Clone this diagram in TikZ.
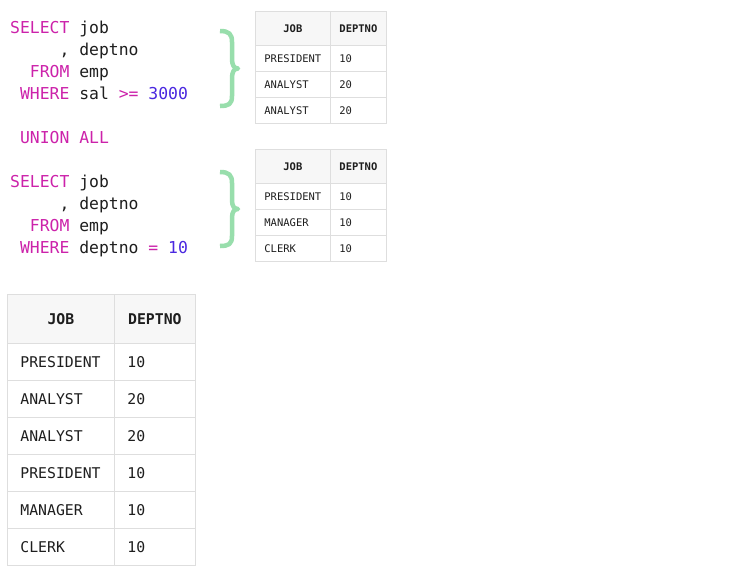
\documentclass[tikz,border=0pt]{standalone}
\usepackage{fontspec}
\setmonofont{DejaVu Sans Mono}
\definecolor{kw}{HTML}{CC22AA}
\definecolor{num}{HTML}{4A28E0}
\definecolor{brc}{HTML}{98DEAC}
\definecolor{gridc}{HTML}{DEDEDE}
\definecolor{hdr}{HTML}{F7F7F7}
\definecolor{txt}{HTML}{1E1E1E}
\newcommand{\kw}[1]{\textcolor{kw}{#1}}
\newcommand{\nm}[1]{\textcolor{num}{#1}}
\begin{document}
\begin{tikzpicture}[x=1pt,y=-1pt,
  code/.style={anchor=base west, inner sep=0pt, font=\ttfamily\fontsize{16.4}{18}\selectfont, text=txt},
  cellbase/.style={draw=gridc, line width=0.8pt, anchor=north west, text=txt, align=left},
  sA/.style={cellbase, minimum width=75pt, text width=57pt, inner xsep=9pt, inner ysep=0pt, minimum height=26pt, font=\ttfamily\fontsize{10.5}{12}\selectfont},
  sB/.style={cellbase, minimum width=56pt, text width=38pt, inner xsep=9pt, inner ysep=0pt, minimum height=26pt, font=\ttfamily\fontsize{10.5}{12}\selectfont},
  sHA/.style={sA, fill=hdr, minimum height=34pt, align=center, font=\ttfamily\bfseries\fontsize{10.5}{12}\selectfont},
  sHB/.style={sB, fill=hdr, minimum height=34pt, align=center, font=\ttfamily\bfseries\fontsize{10.5}{12}\selectfont},
  bA/.style={cellbase, minimum width=107pt, text width=81pt, inner xsep=13pt, inner ysep=0pt, minimum height=37pt, font=\ttfamily\fontsize{14.8}{17}\selectfont},
  bB/.style={cellbase, minimum width=81pt, text width=55pt, inner xsep=13pt, inner ysep=0pt, minimum height=37pt, font=\ttfamily\fontsize{14.8}{17}\selectfont},
  bHA/.style={bA, fill=hdr, minimum height=49pt, align=center, font=\ttfamily\bfseries\fontsize{14.8}{17}\selectfont},
  bHB/.style={bB, fill=hdr, minimum height=49pt, align=center, font=\ttfamily\bfseries\fontsize{14.8}{17}\selectfont},
  bracestyle/.style={draw=brc, line width=4.5pt, line cap=butt, line join=round}
]
\useasboundingbox[fill=white] (0,0) rectangle (729,582);

% first query
\node[code] (q1a) at (10,33) {\kw{SELECT} job};
\node[code] (q1b) at (10,55) {\phantom{SELEC}, deptno};
\node[code] (q1c) at (10,77) {\phantom{SE}\kw{FROM} emp};
\node[code] (q1d) at (10,99) {\phantom{S}\kw{WHERE} sal \kw{>=} \nm{3000}};
\node[code] (un) at (10,143) {\phantom{S}\kw{UNION ALL}};
% second query
\node[code] (q2a) at (10,187) {\kw{SELECT} job};
\node[code] (q2b) at (10,209) {\phantom{SELEC}, deptno};
\node[code] (q2c) at (10,231) {\phantom{SE}\kw{FROM} emp};
\node[code] (q2d) at (10,253) {\phantom{S}\kw{WHERE} deptno \kw{=} \nm{10}};

% braces
\draw[bracestyle] (220,31) .. controls (229,31) and (232,34) .. (232,42) -- (232,59)
  .. controls (232,65) and (234,68.5) .. (238,68.5)
  .. controls (234,68.5) and (232,72) .. (232,78) -- (232,96)
  .. controls (232,104) and (229,106) .. (220,106);
\draw[bracestyle] (220,172) .. controls (229,172) and (232,175) .. (232,183) -- (232,200)
  .. controls (232,206) and (234,209) .. (238,209)
  .. controls (234,209) and (232,212) .. (232,218) -- (232,236)
  .. controls (232,244) and (229,246) .. (220,246);

% small table 1
\node[sHA] (t1h1) at (255,11) {JOB};
\node[sHB] (t1h2) at (330,11) {DEPTNO};
\foreach \j/\d [count=\i] in {PRESIDENT/10, ANALYST/20, ANALYST/20} {
  \node[sA] (t1r\i a) at (255,{45+26*(\i-1)}) {\j};
  \node[sB] (t1r\i b) at (330,{45+26*(\i-1)}) {\d};
}
% small table 2
\node[sHA] (t2h1) at (255,149) {JOB};
\node[sHB] (t2h2) at (330,149) {DEPTNO};
\foreach \j/\d [count=\i] in {PRESIDENT/10, MANAGER/10, CLERK/10} {
  \node[sA] (t2r\i a) at (255,{183+26*(\i-1)}) {\j};
  \node[sB] (t2r\i b) at (330,{183+26*(\i-1)}) {\d};
}
% big table
\node[bHA] (t3h1) at (7,294) {JOB};
\node[bHB] (t3h2) at (114,294) {DEPTNO};
\foreach \j/\d [count=\i] in {PRESIDENT/10, ANALYST/20, ANALYST/20, PRESIDENT/10, MANAGER/10, CLERK/10} {
  \node[bA] (t3r\i a) at (7,{343+37*(\i-1)}) {\j};
  \node[bB] (t3r\i b) at (114,{343+37*(\i-1)}) {\d};
}
\end{tikzpicture}
\end{document}
